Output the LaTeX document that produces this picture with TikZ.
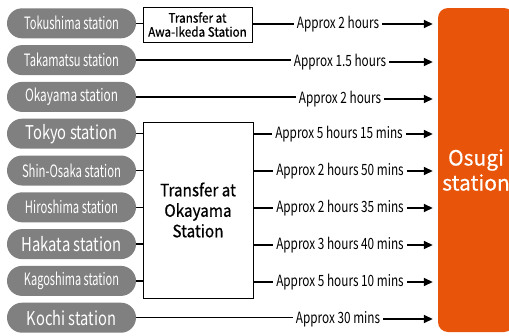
\documentclass[tikz,border=0pt]{standalone}
\usepackage{fontspec}
\usepackage{graphicx}
\setmainfont{Noto Sans CJK JP}
\newfontfamily\timefont[FakeStretch=0.76]{Noto Sans CJK JP}
\newfontfamily\xferfont[FakeStretch=0.9,FakeBold=0.6]{Noto Sans CJK JP}
\newfontfamily\destfont[FakeBold=0.5]{Noto Sans CJK JP}
\usetikzlibrary{arrows.meta}
\definecolor{pillgray}{RGB}{128,128,128}
\definecolor{osugiorange}{RGB}{232,85,10}
\newcommand{\fitpill}[1]{\resizebox{95pt}{\height}{#1}}
\tikzset{
	pill/.style={rectangle,rounded corners=15pt,fill=pillgray,text=white,minimum width=129pt,minimum height=30pt,inner sep=0pt,font=\fontsize{17}{17}\selectfont},
	bigpill/.style={pill,font=\fontsize{19}{19}\selectfont},
	xfer/.style={draw,line width=1pt,fill=white,align=center,inner sep=0pt},
	lbl/.style={inner sep=1pt,font=\timefont\fontsize{15.5}{15.5}\selectfont},
	dest/.style={rectangle,rounded corners=10pt,fill=osugiorange,text=white,align=center,minimum width=76pt,minimum height=324pt,inner sep=0pt,font=\destfont\fontsize{21}{25}\selectfont},
	link/.style={line width=1.5pt},
	arr/.style={line width=1.5pt,-{Triangle[length=9pt,width=8pt]},shorten >=5pt}
}
\begin{document}
\begin{tikzpicture}[x=1pt,y=-1pt]
	\useasboundingbox (0,0) rectangle (509,335);
	\node [dest] (osugi) at (476,170) {Osugi\\station};

	\node [pill] (tokushima) at (71.5,23.3) {\fitpill{Tokushima station}};
	\node [pill] (takamatsu) at (71.5,60.1) {\fitpill{Takamatsu station}};
	\node [pill] (okayama) at (71.5,96.9) {\resizebox{93pt}{\height}{Okayama station}};
	\node [bigpill] (tokyo) at (71.5,133.7) {\resizebox{92pt}{\height}{Tokyo station}};
	\node [pill] (shinosaka) at (71.5,170.5) {\resizebox{99pt}{\height}{Shin-Osaka station}};
	\node [pill] (hiroshima) at (71.5,207.3) {\resizebox{93pt}{\height}{Hiroshima station}};
	\node [bigpill] (hakata) at (71.5,244.1) {\resizebox{100pt}{\height}{Hakata station}};
	\node [pill] (kagoshima) at (71.5,280.9) {\fitpill{Kagoshima station}};
	\node [bigpill] (kochi) at (71.5,317.7) {\resizebox{89pt}{\height}{Kochi station}};

	\node [xfer,minimum width=109pt,minimum height=35pt,font=\xferfont\fontsize{13}{14}\selectfont] (awaikeda) at (197.5,24.5) {Transfer at\\Awa-Ikeda Station};
	\node [xfer,minimum width=110pt,minimum height=176pt,font=\xferfont\fontsize{17}{20.5}\selectfont] (okaxfer) at (198,210) {Transfer at\\Okayama\\Station};

	\node [lbl] (t1) at (338,24) {Approx 2 hours};
	\node [lbl] (t2) at (340,62) {Approx 1.5 hours};
	\node [lbl] (t3) at (340,99) {Approx 2 hours};
	\node [lbl] (t4) at (339,134) {Approx 5 hours 15 mins};
	\node [lbl] (t5) at (340,171) {Approx 2 hours 50 mins};
	\node [lbl] (t6) at (340,208) {Approx 2 hours 35 mins};
	\node [lbl] (t7) at (340,245) {Approx 3 hours 40 mins};
	\node [lbl] (t8) at (340,282) {Approx 5 hours 10 mins};
	\node [lbl] (t9) at (338,319) {Approx 30 mins};

	% Tokushima via Awa-Ikeda
	\draw [link] (tokushima.east) -- (awaikeda.west |- tokushima.east);
	\draw [link] (awaikeda.east |- t1.west) -- ([xshift=-2pt]t1.west);
	\draw [arr] ([xshift=2pt]t1.east) -- (t1.east -| osugi.west);

	% direct
	\draw [link] (takamatsu.east) -- ([xshift=-2pt]t2.west |- takamatsu.east);
	\draw [arr] ([xshift=2pt]t2.east) -- (t2.east -| osugi.west);
	\draw [link] (okayama.east) -- ([xshift=-2pt]t3.west |- okayama.east);
	\draw [arr] ([xshift=2pt]t3.east) -- (t3.east -| osugi.west);
	\draw [link] (kochi.east) -- ([xshift=-2pt]t9.west |- kochi.east);
	\draw [arr] ([xshift=2pt]t9.east) -- (t9.east -| osugi.west);

	% via Okayama
	\draw [link] (tokyo.east) -- (okaxfer.west |- tokyo.east);
	\draw [link] (shinosaka.east) -- (okaxfer.west |- shinosaka.east);
	\draw [link] (hiroshima.east) -- (okaxfer.west |- hiroshima.east);
	\draw [link] (hakata.east) -- (okaxfer.west |- hakata.east);
	\draw [link] (kagoshima.east) -- (okaxfer.west |- kagoshima.east);
	\draw [link] (okaxfer.east |- t4.west) -- ([xshift=-2pt]t4.west);
	\draw [arr] ([xshift=2pt]t4.east) -- (t4.east -| osugi.west);
	\draw [link] (okaxfer.east |- t5.west) -- ([xshift=-2pt]t5.west);
	\draw [arr] ([xshift=2pt]t5.east) -- (t5.east -| osugi.west);
	\draw [link] (okaxfer.east |- t6.west) -- ([xshift=-2pt]t6.west);
	\draw [arr] ([xshift=2pt]t6.east) -- (t6.east -| osugi.west);
	\draw [link] (okaxfer.east |- t7.west) -- ([xshift=-2pt]t7.west);
	\draw [arr] ([xshift=2pt]t7.east) -- (t7.east -| osugi.west);
	\draw [link] (okaxfer.east |- t8.west) -- ([xshift=-2pt]t8.west);
	\draw [arr] ([xshift=2pt]t8.east) -- (t8.east -| osugi.west);
\end{tikzpicture}
\end{document}
